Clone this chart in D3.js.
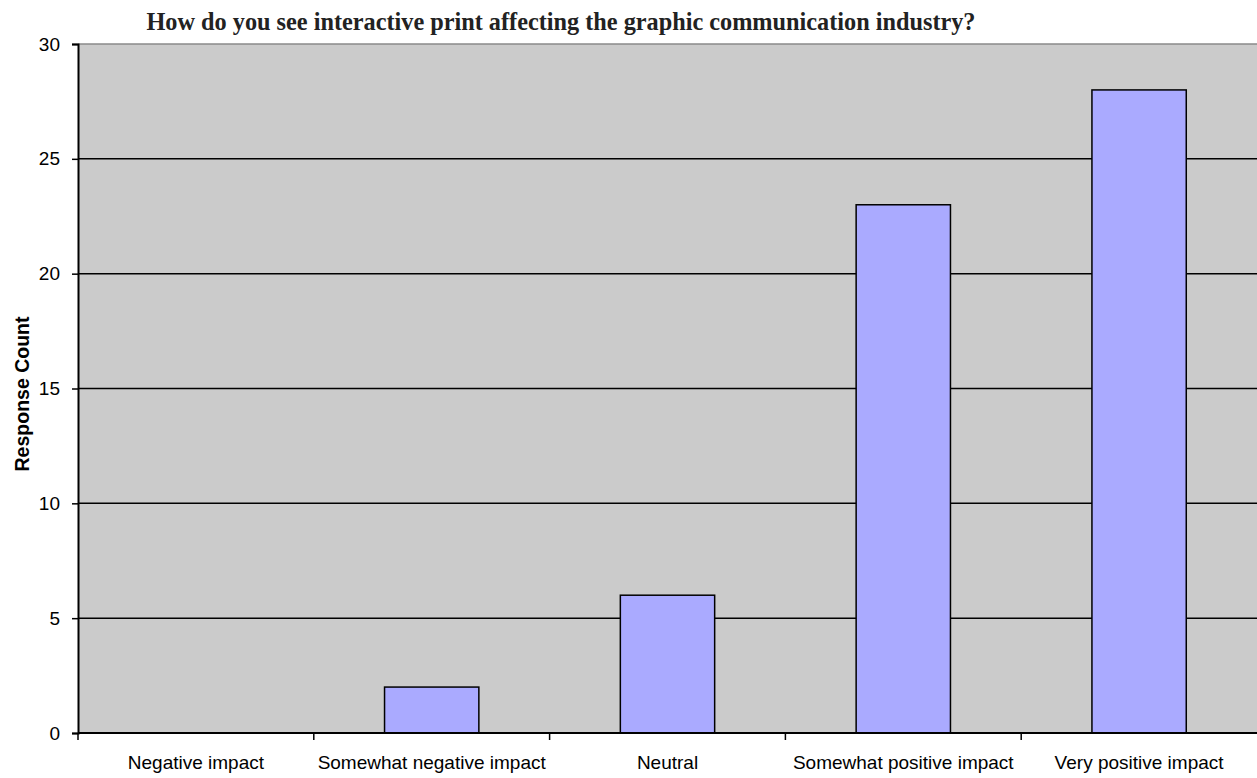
<!DOCTYPE html>
<html>
<head>
<meta charset="utf-8">
<script src="https://cdn.jsdelivr.net/npm/d3@7"></script>
<style>
  html, body { margin: 0; padding: 0; background: #fff; }
  svg { display: block; }
</style>
</head>
<body>
<svg id="chart" width="1257" height="778"></svg>
<script>
// Survey responses
const categories = ["Negative impact", "Somewhat negative impact", "Neutral", "Somewhat positive impact", "Very positive impact"];
const counts = [0, 2, 6, 23, 28];
const yTicks = [0, 5, 10, 15, 20, 25, 30];
const chartTitle = "How do you see interactive print affecting the graphic communication industry?";
const yTitle = "Response Count";

const W = 1257, H = 778;
const margin = { top: 44, right: 0, bottom: 45, left: 78 };
const svg = d3.select("#chart");
const sans = "Liberation Sans, Arial, sans-serif";

const x = d3.scaleBand().domain(categories).range([margin.left, W - margin.right]).paddingInner(0).paddingOuter(0);
const y = d3.scaleLinear().domain([0, 30]).range([H - margin.bottom, margin.top]);

// plot background
svg.append("rect")
  .attr("x", margin.left).attr("y", margin.top)
  .attr("width", W - margin.right - margin.left)
  .attr("height", y(0) - margin.top)
  .attr("fill", "#cbcbcb");

// top border
svg.append("line")
  .attr("x1", margin.left).attr("x2", W - margin.right)
  .attr("y1", y(30)).attr("y2", y(30))
  .attr("stroke", "#8a8a8a").attr("stroke-width", 1.5);

// horizontal gridlines
svg.append("g").selectAll("line")
  .data(yTicks.filter(t => t > 0 && t < 30))
  .join("line")
  .attr("x1", margin.left).attr("x2", W - margin.right)
  .attr("y1", d => y(d)).attr("y2", d => y(d))
  .attr("stroke", "#000").attr("stroke-width", 1.5);

// bars
const barW = x.bandwidth() * 0.4;
svg.append("g").selectAll("rect")
  .data(categories.map((c, i) => ({ c, v: counts[i] })).filter(d => d.v > 0))
  .join("rect")
  .attr("x", d => x(d.c) + (x.bandwidth() - barW) / 2)
  .attr("y", d => y(d.v))
  .attr("width", barW)
  .attr("height", d => y(0) - y(d.v))
  .attr("fill", "#aaaaff")
  .attr("stroke", "#000").attr("stroke-width", 1.5);

// y axis
const yAxis = svg.append("g")
  .attr("transform", `translate(${margin.left},0)`)
  .call(d3.axisLeft(y).tickValues(yTicks).tickSize(6).tickPadding(12).tickFormat(d3.format("d")));
yAxis.select(".domain").attr("stroke", "#000").attr("stroke-width", 2);
yAxis.selectAll(".tick line").attr("stroke", "#000").attr("stroke-width", 1.5);
yAxis.selectAll(".tick text")
  .attr("font-family", sans)
  .attr("font-size", 19).attr("fill", "#000");

// x axis line and category boundary ticks
svg.append("line")
  .attr("x1", margin.left).attr("x2", W)
  .attr("y1", y(0)).attr("y2", y(0))
  .attr("stroke", "#000").attr("stroke-width", 2);
svg.append("g").selectAll("line")
  .data(categories)
  .join("line")
  .attr("x1", d => x(d)).attr("x2", d => x(d))
  .attr("y1", y(0)).attr("y2", y(0) + 7)
  .attr("stroke", "#000").attr("stroke-width", 1.5);

svg.append("g").selectAll("text")
  .data(categories)
  .join("text")
  .attr("x", d => x(d) + x.bandwidth() / 2)
  .attr("y", 769)
  .attr("text-anchor", "middle")
  .attr("font-family", sans)
  .attr("font-size", 19).attr("fill", "#000")
  .text(d => d);

// titles
svg.append("text")
  .attr("x", 561).attr("y", 30)
  .attr("text-anchor", "middle")
  .attr("font-family", "Liberation Serif, 'Times New Roman', serif")
  .attr("font-weight", "bold")
  .attr("font-size", 25).attr("fill", "#222")
  .attr("textLength", 829).attr("lengthAdjust", "spacingAndGlyphs")
  .text(chartTitle);

svg.append("text")
  .attr("transform", "translate(29,394) rotate(-90)")
  .attr("text-anchor", "middle")
  .attr("font-family", sans)
  .attr("font-weight", "bold")
  .attr("font-size", 19.5).attr("fill", "#000")
  .text(yTitle);
</script>
</body>
</html>
